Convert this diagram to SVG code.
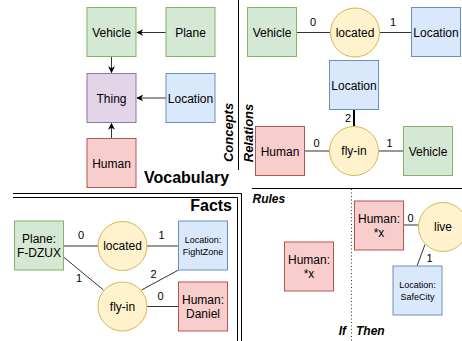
<svg xmlns="http://www.w3.org/2000/svg" width="462" height="341" viewBox="0 0 462 341">
<defs>
<style>
text{font-family:"Liberation Sans",Arial,sans-serif;fill:#000}
.t{font-size:12px;text-anchor:middle}
.s{font-size:9px;text-anchor:middle}
.n{font-size:11px;text-anchor:middle}
.h{font-size:16px;font-weight:bold}
.bi{font-size:12px;font-weight:bold;font-style:italic}
.g{fill:#d5e8d4;stroke:#82b366}
.b{fill:#dae8fc;stroke:#6c8ebf}
.r{fill:#f8cecc;stroke:#b85450}
.p{fill:#e1d5e7;stroke:#9673a6}
.y{fill:#fff2cc;stroke:#d6b656}
.e{stroke:#333;stroke-width:1;fill:none}
.sep{stroke:#000;stroke-width:1;fill:none}
</style>
<marker id="arr" viewBox="0 0 10 10" refX="9" refY="5" markerWidth="7" markerHeight="7" orient="auto" markerUnits="userSpaceOnUse">
<path d="M0,0 L10,5 L0,10 L3,5 Z" fill="#000"/>
</marker>
</defs>
<rect width="462" height="341" fill="#fff"/>

<g id="separators">
<line class="sep" x1="238.5" y1="0" x2="238.5" y2="170"/>
<line class="sep" x1="252" y1="188.5" x2="462" y2="188.5"/>
<path class="sep" d="M13,193.5 H241.5 V341"/>
<path class="sep" d="M13,197.5 H237.5 V341"/>
<line x1="351.5" y1="189" x2="351.5" y2="341" stroke="#333" stroke-width="1" stroke-dasharray="1,2.5"/>
</g>

<g id="headings">
<text class="h" x="144" y="183">Vocabulary</text>
<text class="h" x="232" y="210.5" text-anchor="end">Facts</text>
<text font-size="13" font-weight="bold" font-style="italic" text-anchor="middle" transform="translate(232.5,132.5) rotate(-90)">Concepts</text>
<text font-size="13" font-weight="bold" font-style="italic" text-anchor="middle" transform="translate(253,133) rotate(-90)">Relations</text>
<text class="bi" x="252.5" y="203">Rules</text>
<text class="bi" x="346" y="334.5" text-anchor="end">If</text>
<text class="bi" x="356" y="334.5">Then</text>
</g>

<g id="connectors">
<line class="e" x1="166" y1="32.5" x2="137" y2="32.5" marker-end="url(#arr)"/>
<line class="e" x1="111.5" y1="56" x2="111.5" y2="72.5" marker-end="url(#arr)"/>
<line class="e" x1="166" y1="98" x2="137" y2="98" marker-end="url(#arr)"/>
<line class="e" x1="111.5" y1="138" x2="111.5" y2="123.5" marker-end="url(#arr)"/>

<line class="e" x1="297" y1="32.5" x2="330.5" y2="32.5"/>
<line class="e" x1="379.5" y1="32.5" x2="411.5" y2="32.5"/>
<line x1="354" y1="109.5" x2="354" y2="126.5" stroke="#000" stroke-width="2"/>
<line class="e" x1="304.5" y1="151" x2="329.5" y2="151"/>
<line class="e" x1="378.5" y1="151" x2="403" y2="151"/>

<line class="e" x1="63.5" y1="246" x2="98" y2="246"/>
<line class="e" x1="147" y1="246" x2="178.5" y2="246"/>
<line class="e" x1="63.5" y1="257" x2="103.5" y2="290"/>
<line class="e" x1="178.5" y1="270" x2="141.5" y2="290"/>
<line class="e" x1="147" y1="306.5" x2="178.5" y2="306.5"/>

<line class="e" x1="404" y1="225" x2="418.5" y2="225"/>
<line class="e" x1="425" y1="244.5" x2="417" y2="266"/>

<text class="n" x="313" y="26">0</text>
<text class="n" x="393" y="26">1</text>
<text class="n" x="348" y="121.5">2</text>
<text class="n" x="316.5" y="146.5">0</text>
<text class="n" x="389.5" y="146.5">1</text>

<text class="n" x="81" y="239">0</text>
<text class="n" x="161.5" y="239">1</text>
<text class="n" x="79" y="281.5">1</text>
<text class="n" x="153.5" y="277.5">2</text>
<text class="n" x="160.5" y="300">0</text>

<text class="n" x="410.5" y="222">0</text>
<text class="n" x="429.5" y="262">1</text>
</g>

<g id="voc-vehicle"><rect class="g" x="87" y="7.5" width="49" height="49"/><text class="t" x="111.5" y="36.5">Vehicle</text></g>
<g id="voc-plane"><rect class="g" x="166" y="7.5" width="49" height="49"/><text class="t" x="190.5" y="36.5">Plane</text></g>
<g id="voc-thing"><rect class="p" x="87" y="73.5" width="49" height="49"/><text class="t" x="111.5" y="102.5">Thing</text></g>
<g id="voc-location"><rect class="b" x="166" y="73.5" width="49" height="49"/><text class="t" x="190.5" y="102.5">Location</text></g>
<g id="voc-human"><rect class="r" x="87" y="138.5" width="49" height="49"/><text class="t" x="111.5" y="167.5">Human</text></g>

<g id="rel-vehicle"><rect class="g" x="247.5" y="7.5" width="49" height="49"/><text class="t" x="272" y="36.5">Vehicle</text></g>
<g id="rel-located"><circle class="y" cx="355" cy="32.5" r="24.5"/><text class="t" x="355" y="36.5">located</text></g>
<g id="rel-location"><rect class="b" x="411.5" y="7.5" width="49" height="49"/><text class="t" x="436" y="36.5">Location</text></g>
<g id="rel-location2"><rect class="b" x="329.5" y="60.5" width="49" height="49"/><text class="t" x="354" y="89.5">Location</text></g>
<g id="rel-human"><rect class="r" x="255.5" y="126.5" width="49" height="49"/><text class="t" x="280" y="155.5">Human</text></g>
<g id="rel-flyin"><circle class="y" cx="354" cy="151" r="24.5"/><text class="t" x="354" y="155">fly-in</text></g>
<g id="rel-vehicle2"><rect class="g" x="403.5" y="126.5" width="49" height="49"/><text class="t" x="428" y="155.5">Vehicle</text></g>

<g id="fact-plane"><rect class="g" x="14.5" y="221" width="49" height="49"/><text class="t" x="39" y="242.5">Plane:</text><text class="t" x="39" y="256.5">F-DZUX</text></g>
<g id="fact-located"><circle class="y" cx="122.5" cy="246" r="24.5"/><text class="t" x="122.5" y="250">located</text></g>
<g id="fact-location"><rect class="b" x="178.5" y="221" width="49" height="49"/><text class="s" x="203" y="242.5">Location:</text><text class="s" x="203" y="254.5">FightZone</text></g>
<g id="fact-flyin"><circle class="y" cx="122.5" cy="306.5" r="24.5"/><text class="t" x="122.5" y="310.5">fly-in</text></g>
<g id="fact-human"><rect class="r" x="178.5" y="282" width="49" height="49"/><text class="t" x="203" y="304">Human:</text><text class="t" x="203" y="318">Daniel</text></g>

<g id="rule-if-human"><rect class="r" x="284.5" y="242" width="49" height="49"/><text class="t" x="309" y="263.5">Human:</text><text class="t" x="309" y="277.5">*x</text></g>
<g id="rule-then-human"><rect class="r" x="354.5" y="201" width="49" height="49"/><text class="t" x="379" y="222.5">Human:</text><text class="t" x="379" y="236.5">*x</text></g>
<g id="rule-live"><circle class="y" cx="443" cy="227" r="24.5"/><text class="t" x="443" y="231">live</text></g>
<g id="rule-location"><rect class="b" x="393" y="266" width="49" height="49"/><text class="s" x="417.5" y="288">Location:</text><text class="s" x="417.5" y="299.5">SafeCity</text></g>
</svg>
